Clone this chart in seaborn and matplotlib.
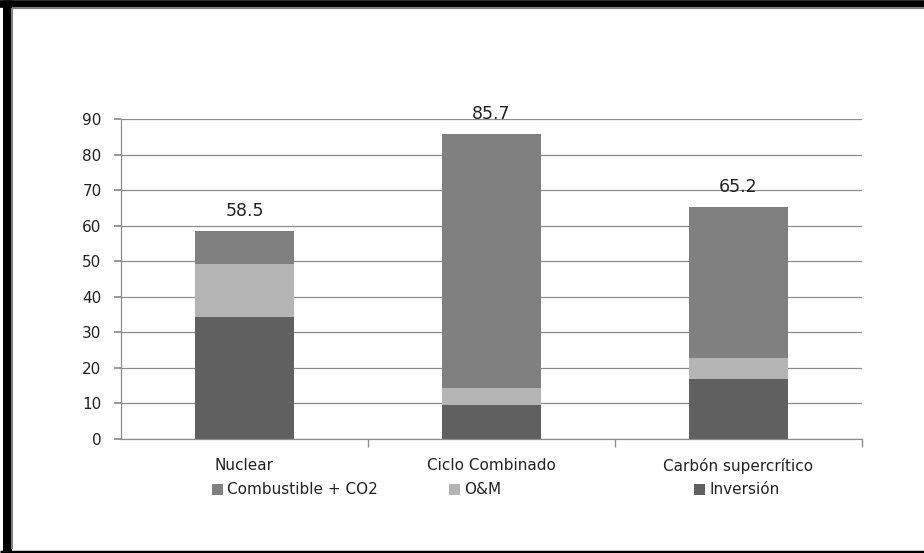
import matplotlib
matplotlib.use("Agg")
import matplotlib.pyplot as plt
import seaborn as sns
import pandas as pd
from matplotlib.lines import Line2D

# datos
categorias = ["Nuclear", "Ciclo Combinado", "Carbón supercrítico"]
inversion = [34.3, 9.6, 16.8]
om = [14.9, 4.7, 6.1]
combustible = [9.3, 71.4, 42.3]
totales = [58.5, 85.7, 65.2]

col_inv = "#606060"
col_om = "#b4b4b4"
col_comb = "#808080"

sns.set_theme(style="white")
plt.rcParams["font.family"] = ["DejaVu Sans"]

df = pd.DataFrame({"cat": categorias, "inv": inversion, "om": om, "comb": combustible})
base_comb = [a + b for a, b in zip(inversion, om)]

fig = plt.figure(figsize=(9.24, 5.53), dpi=100)
ax = fig.add_axes([121 / 924, 1 - 439 / 553, (862 - 121) / 924, (439 - 119) / 553])

sns.barplot(data=df, x="cat", y="inv", color=col_inv, width=0.4, saturation=1,
            linewidth=0, label="Inversión", ax=ax)
sns.barplot(data=df, x="cat", y="om", bottom=inversion, color=col_om, width=0.4,
            saturation=1, linewidth=0, label="O&M", ax=ax)
sns.barplot(data=df, x="cat", y="comb", bottom=base_comb, color=col_comb, width=0.4,
            saturation=1, linewidth=0, label="Combustible + CO2", ax=ax)

ax.bar_label(ax.containers[2], labels=[f"{t:.1f}" for t in totales], padding=8,
             fontsize=12.5, color="#222222")

ax.set_ylim(0, 90)
ax.set_xlim(-0.5, 2.5)
ax.set_yticks(range(0, 91, 10))
ax.set_xlabel("")
ax.set_ylabel("")
ax.yaxis.grid(True, color="#8c8c8c", linewidth=0.9)
ax.set_axisbelow(True)
for s in ["top", "right"]:
    ax.spines[s].set_visible(False)
for s in ["left", "bottom"]:
    ax.spines[s].set_color("#8c8c8c")
    ax.spines[s].set_linewidth(0.9)

ax.tick_params(axis="y", which="major", left=True, length=5, color="#8c8c8c",
               labelsize=11, labelcolor="#222222", pad=9)
ax.tick_params(axis="x", which="major", length=0, labelsize=11, labelcolor="#222222", pad=14)
ax.set_xticks([0.5, 1.5, 2.5], minor=True)
ax.tick_params(axis="x", which="minor", bottom=True, length=6, color="#8c8c8c")

# leyenda con espaciado irregular como en el original
handles, labels = ax.get_legend_handles_labels()
if ax.get_legend() is not None:
    ax.get_legend().remove()
orden = {"Combustible + CO2": 212, "O&M": 449, "Inversión": 694}
for h, l in zip(handles, labels):
    leg = fig.legend([h], [l], loc="center left",
                     bbox_to_anchor=(orden[l] / 924, 1 - 490 / 553),
                     frameon=False, fontsize=11, handlelength=0.7, handleheight=0.7,
                     handletextpad=0.3, borderpad=0, borderaxespad=0)
    for t in leg.get_texts():
        t.set_color("#222222")

# marco negro del grafico
def linea(x0, y0, x1, y1, color, lw):
    fig.add_artist(Line2D([x0 / 924, x1 / 924], [1 - y0 / 553, 1 - y1 / 553],
                          transform=fig.transFigure, color=color, linewidth=lw,
                          solid_capstyle="butt"))

linea(0, 3.5, 924, 3.5, "black", 5.5)
linea(6.5, 0, 6.5, 553, "black", 6.5)
linea(0, 551.5, 924, 551.5, "black", 2.5)
linea(12, 8, 924, 8, "#808080", 1.5)
linea(12, 8, 12, 549, "#808080", 1.5)

fig.savefig("out.png", dpi=100)
